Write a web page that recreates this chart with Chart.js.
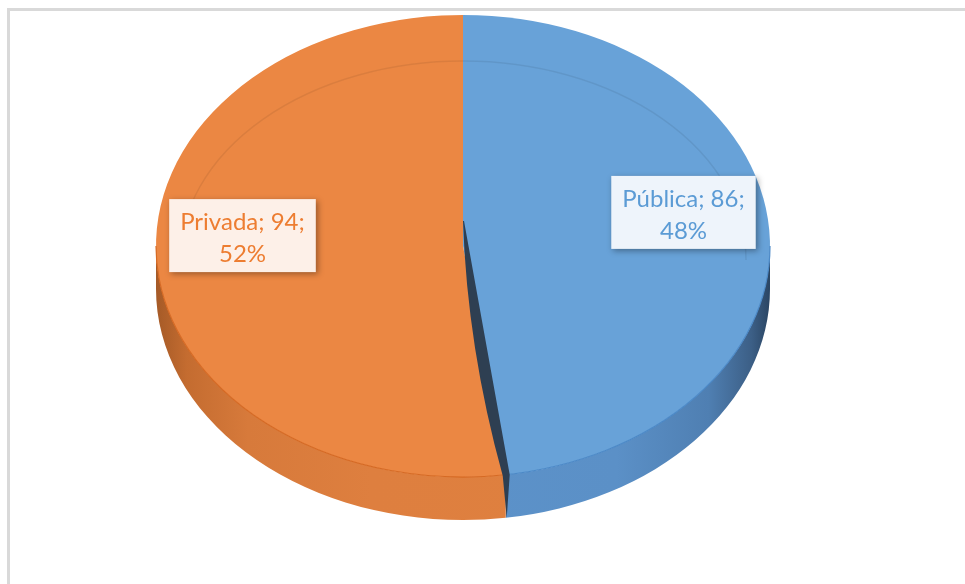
<!DOCTYPE html>
<html>
<head>
<meta charset="utf-8">
<script src="https://cdn.jsdelivr.net/npm/chart.js@4.4.1/dist/chart.umd.min.js"></script>
<style>
  html, body { margin: 0; padding: 0; background: #fff; }
  #wrap { position: relative; width: 965px; height: 584px; }
</style>
</head>
<body>
<div id="wrap"><canvas id="pie"></canvas></div>
<script>
// datos del gráfico
const sectores = ["Pública", "Privada"];
const valores = [86, 94];

// estilos
const coloresTapa = ["#68A2D8", "#EB8743"];
const coloresTexto = ["#5B9BD5", "#ED7D31"];
const fondosEtiqueta = ["#EEF4FB", "#FDF0E8"];
const coloresBorde = ["#4C89C7", "#D66A24"];

// la tarta vista en 3D: elipse de la tapa + grosor
const ELIPSE = { cx: 463, cy: 246, rx: 307, ry: 231, depth: 43 };

function gradienteLado(ctx, i) {
  const x0 = ELIPSE.cx - ELIPSE.rx, x1 = ELIPSE.cx + ELIPSE.rx;
  const g = ctx.createLinearGradient(x0, 0, x1, 0);
  if (i === 0) {
    g.addColorStop(0, "#5d95cd");
    g.addColorStop(0.75, "#5b90c7");
    g.addColorStop(0.9, "#4f7fb2");
    g.addColorStop(0.97, "#3c5f86");
    g.addColorStop(1, "#2a4563");
  } else {
    g.addColorStop(0, "#a55a27");
    g.addColorStop(0.05, "#c46c30");
    g.addColorStop(0.15, "#d77a3b");
    g.addColorStop(0.35, "#de7f3f");
    g.addColorStop(1, "#e0813f");
  }
  return g;
}

const pie3d = {
  id: "pie3d",
  beforeDraw(chart) {
    const ctx = chart.ctx;
    ctx.save();
    ctx.strokeStyle = "#d9d9d9";
    ctx.lineWidth = 3;
    ctx.strokeRect(8.5, 9.5, 1200, 1200);
    ctx.restore();
  },
  beforeDatasetsDraw(chart) {
    const ctx = chart.ctx;
    const arcs = chart.getDatasetMeta(0).data;
    const { cx, cy, rx, ry, depth } = ELIPSE;
    // lados visibles (mitad delantera)
    arcs.forEach((arc, i) => {
      const s = Math.max(arc.startAngle, 0);
      const e = Math.min(arc.endAngle, Math.PI);
      if (s >= e) return;
      ctx.save();
      ctx.beginPath();
      ctx.ellipse(cx, cy, rx, ry, 0, s, e);
      ctx.ellipse(cx, cy + depth, rx, ry, 0, e, s, true);
      ctx.closePath();
      ctx.fillStyle = gradienteLado(ctx, i);
      ctx.fill();
      ctx.restore();
    });
    // la tapa: el círculo de Chart.js aplastado a elipse
    const a = arcs[0];
    ctx.save();
    ctx.translate(cx, cy);
    ctx.scale(rx / a.outerRadius, ry / a.outerRadius);
    ctx.translate(-a.x, -a.y);
  },
  afterDatasetsDraw(chart) {
    const ctx = chart.ctx;
    ctx.restore();
    const arcs = chart.getDatasetMeta(0).data;
    const { cx, cy, rx, ry, depth } = ELIPSE;

    // borde delantero de la tapa
    arcs.forEach((arc, i) => {
      const s = Math.max(arc.startAngle, 0);
      const e = Math.min(arc.endAngle, Math.PI);
      if (s >= e) return;
      ctx.save();
      ctx.beginPath();
      ctx.ellipse(cx, cy, rx, ry, 0, s, e);
      ctx.strokeStyle = coloresBorde[i];
      ctx.lineWidth = 1.2;
      ctx.stroke();
      ctx.restore();
    });

    // anillo interior tenue
    ctx.save();
    ctx.beginPath();
    ctx.ellipse(cx, cy + 14, rx - 24, ry - 32, 0, Math.PI, 2 * Math.PI);
    ctx.strokeStyle = "rgba(0,0,0,0.07)";
    ctx.lineWidth = 1.5;
    ctx.stroke();
    ctx.restore();

    // cara de corte oscura entre las porciones
    const b = arcs[0].endAngle;
    const ex = cx + rx * Math.cos(b), ey = cy + ry * Math.sin(b);
    const topY = cy - 25;
    ctx.save();
    ctx.beginPath();
    ctx.moveTo(cx, topY);
    ctx.quadraticCurveTo(cx + 0.1 * (ex - cx), (topY + ey) / 2 + 0, ex - 3, ey + 1);
    ctx.lineTo(ex + 1, ey + depth);
    ctx.lineTo(ex + 4, ey);
    ctx.lineTo(cx + 1, topY);
    ctx.closePath();
    ctx.fillStyle = "#2E3F52";
    ctx.fill();
    ctx.restore();

    // etiquetas
    const total = valores.reduce((s, v) => s + v, 0);
    ctx.save();
    ctx.font = "24px Lato";
    arcs.forEach((arc, i) => {
      const m = (arc.startAngle + arc.endAngle) / 2;
      const ax = cx + 0.72 * rx * Math.cos(m);
      const ay = cy + 0.72 * ry * Math.sin(m) - 22;
      const lines = [sectores[i] + "; " + valores[i] + ";", Math.round(valores[i] / total * 100) + "%"];
      const w = Math.max(...lines.map(t => ctx.measureText(t).width)) + 22;
      const h = 73;
      const x = ax - w / 2, y = ay - h / 2;
      ctx.save();
      ctx.shadowColor = "rgba(0,0,0,0.35)";
      ctx.shadowBlur = 6;
      ctx.shadowOffsetX = 2;
      ctx.shadowOffsetY = 2;
      ctx.fillStyle = fondosEtiqueta[i];
      ctx.fillRect(x, y, w, h);
      ctx.restore();
      ctx.fillStyle = coloresTexto[i];
      ctx.textAlign = "center";
      ctx.textBaseline = "alphabetic";
      ctx.fillText(lines[0], ax, y + 31);
      ctx.fillText(lines[1], ax, y + 63);
    });
    ctx.restore();
  }
};

const ctx = document.getElementById("pie").getContext("2d");
new Chart(ctx, {
  type: "pie",
  data: {
    labels: sectores,
    datasets: [
      {
        data: valores,
        backgroundColor: coloresTapa,
        borderWidth: 0,
        hoverOffset: 0,
        clip: false,
      },
    ],
  },
  options: {
    responsive: true,
    maintainAspectRatio: false,
    animation: false,
    events: [],
    layout: { padding: 0 },
    plugins: {
      legend: { display: false },
      tooltip: { enabled: false },
    },
  },
  plugins: [pie3d],
});
</script>
</body>
</html>
